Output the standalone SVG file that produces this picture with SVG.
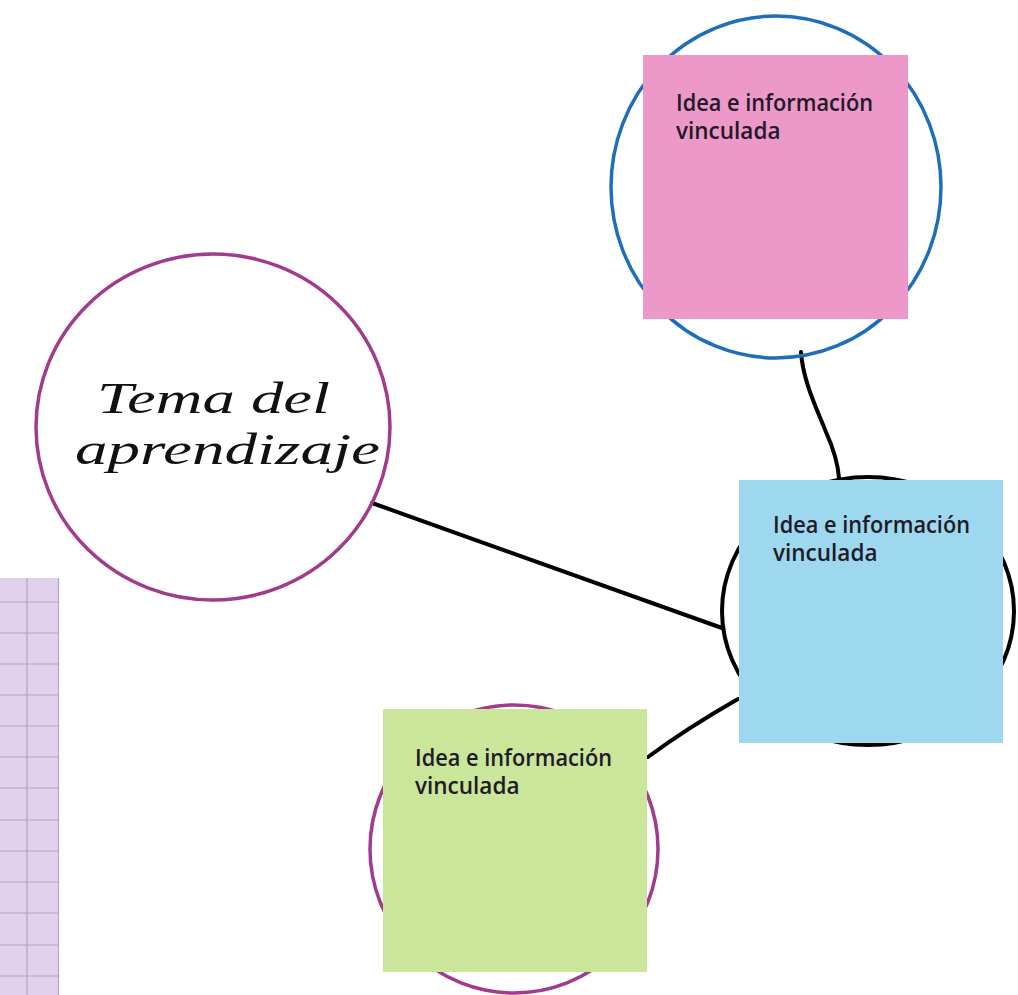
<svg xmlns="http://www.w3.org/2000/svg" width="1018" height="995" viewBox="0 0 1018 995">
<style>
.ring{fill:none}
.note{stroke:none}
.lbl{font-family:"Open Sans","Noto Sans","DejaVu Sans",sans-serif;font-size:22.5px;font-weight:600;fill:#221a26}
.hand{font-family:"Liberation Serif",serif;font-style:italic;font-size:44px;fill:#111}
.conn{fill:none;stroke:#000;stroke-width:4;stroke-linecap:round;stroke-linejoin:round}
.grid line{stroke:#b7a2c0;stroke-width:1.2}
</style>
<rect width="1018" height="995" fill="#ffffff"/>
<g id="grid" class="grid">
<rect x="0" y="578" width="59" height="417" fill="#e2d1ec"/>
<line x1="27" y1="578" x2="27" y2="995"/>
<line x1="58.5" y1="578" x2="58.5" y2="995"/>
<line x1="0" y1="602" x2="59" y2="602"/>
<line x1="0" y1="633" x2="59" y2="633"/>
<line x1="0" y1="664" x2="59" y2="664"/>
<line x1="0" y1="695" x2="59" y2="695"/>
<line x1="0" y1="726" x2="59" y2="726"/>
<line x1="0" y1="757" x2="59" y2="757"/>
<line x1="0" y1="788" x2="59" y2="788"/>
<line x1="0" y1="820" x2="59" y2="820"/>
<line x1="0" y1="851" x2="59" y2="851"/>
<line x1="0" y1="882" x2="59" y2="882"/>
<line x1="0" y1="913" x2="59" y2="913"/>
<line x1="0" y1="945" x2="59" y2="945"/>
<line x1="0" y1="976" x2="59" y2="976"/>
</g>
<g id="connectors">
<path class="conn" d="M372,503 L722,628"/>
<path class="conn" d="M801,352 C803,380 815,405 826,432 C835,452 838,465 839,478"/>
<path class="conn" d="M738,699 C710,715 675,737 648,757"/>
</g>
<g id="topic">
<ellipse class="ring" cx="213" cy="427" rx="177" ry="173" stroke="#a23a8e" stroke-width="3.5"/>
<text class="hand" x="97" y="413" textLength="233" lengthAdjust="spacingAndGlyphs">Tema del</text>
<text class="hand" x="75" y="464" textLength="305" lengthAdjust="spacingAndGlyphs">aprendizaje</text>
</g>
<g id="idea-pink">
<ellipse class="ring" cx="776" cy="187" rx="165" ry="171" stroke="#1f6eb8" stroke-width="3.5"/>
<rect class="note" x="643" y="55" width="265" height="264" fill="#ec98c8"/>
<text class="lbl" x="676" y="111" textLength="197" lengthAdjust="spacingAndGlyphs">Idea e información</text>
<text class="lbl" x="676" y="139">vinculada</text>
</g>
<g id="idea-blue">
<ellipse class="ring" cx="868" cy="611" rx="146" ry="134" stroke="#000" stroke-width="4"/>
<rect class="note" x="739" y="480" width="264" height="263" fill="#9dd8ef"/>
<text class="lbl" x="773" y="533" textLength="197" lengthAdjust="spacingAndGlyphs">Idea e información</text>
<text class="lbl" x="773" y="561">vinculada</text>
</g>
<g id="idea-green">
<ellipse class="ring" cx="514" cy="849" rx="144" ry="144" stroke="#a23a8e" stroke-width="3.5"/>
<rect class="note" x="383" y="709" width="264" height="263" fill="#c9e69a"/>
<text class="lbl" x="415" y="766" textLength="197" lengthAdjust="spacingAndGlyphs">Idea e información</text>
<text class="lbl" x="415" y="794">vinculada</text>
</g>
</svg>
